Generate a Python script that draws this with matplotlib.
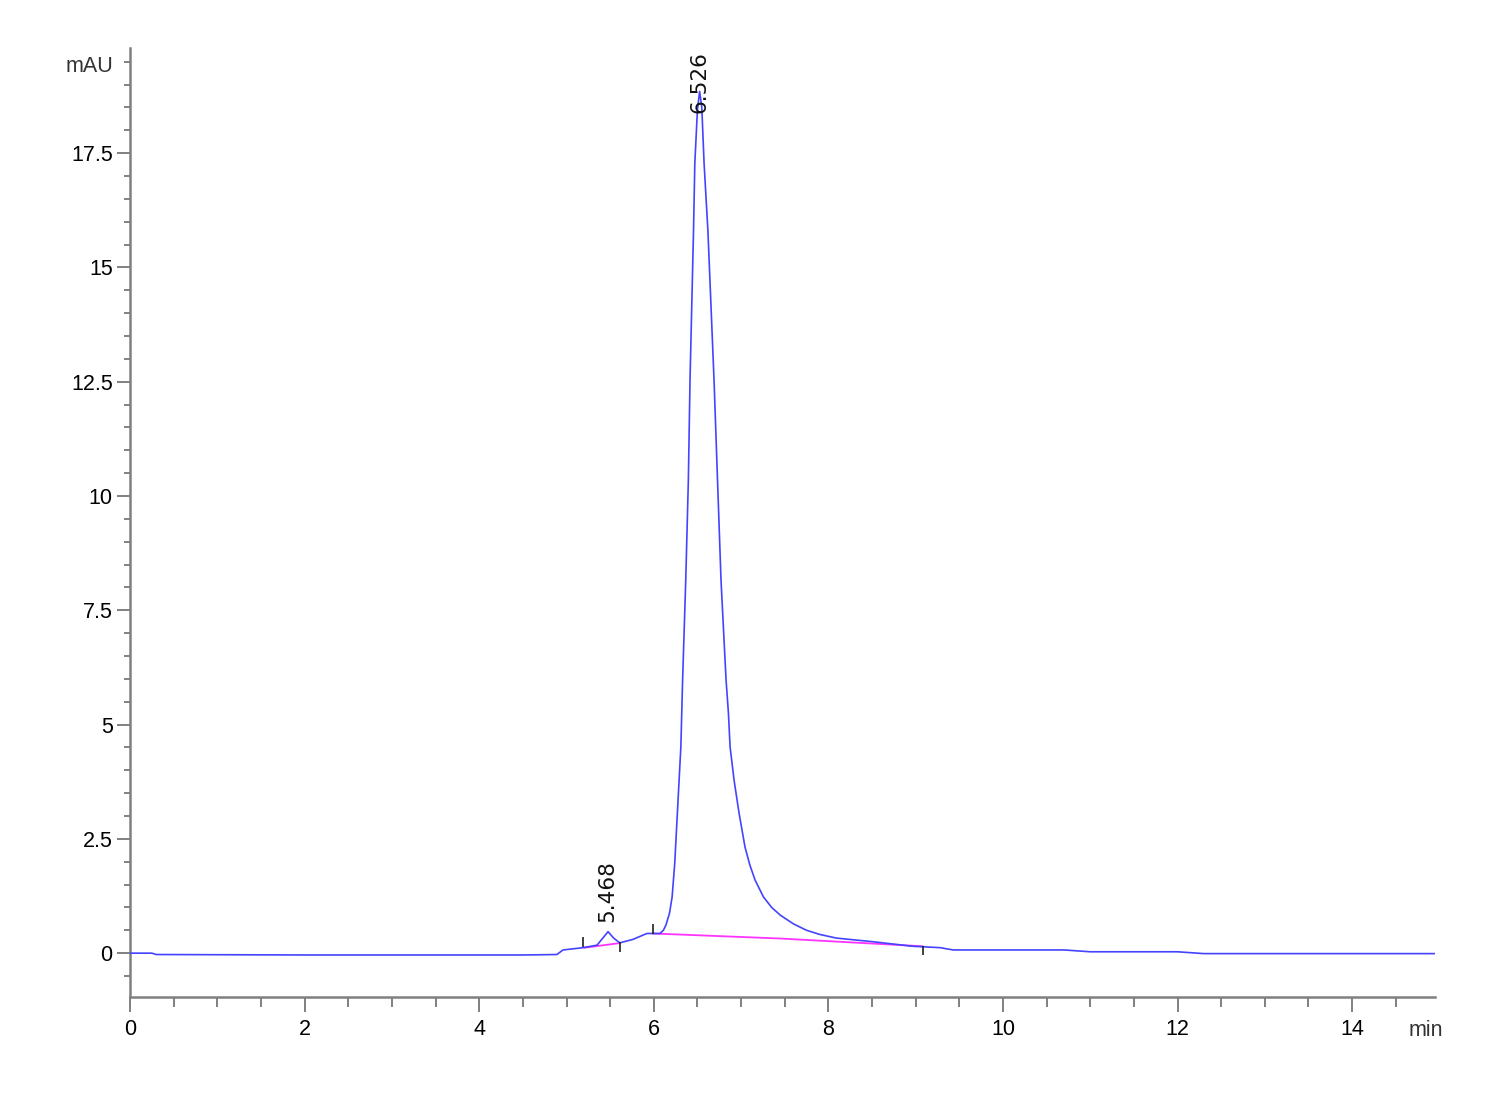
import numpy as np
import matplotlib
matplotlib.use("Agg")
import matplotlib.pyplot as plt
import matplotlib.transforms as mtransforms

# signal (min, mAU)
tempo = [0.0, 0.25, 0.3, 2.0, 3.5, 4.5, 4.89, 4.96, 5.19, 5.35, 5.476, 5.54, 5.61,
         5.76, 5.92, 6.07, 6.11, 6.14, 6.18, 6.21, 6.24, 6.27, 6.31, 6.33, 6.366,
         6.396, 6.415, 6.455, 6.47, 6.50, 6.525, 6.55, 6.576, 6.62, 6.69, 6.73,
         6.77, 6.828, 6.855, 6.874, 6.92, 6.977, 7.045, 7.1, 7.16, 7.256, 7.35,
         7.45, 7.6, 7.75, 7.9, 8.09, 8.51, 8.97, 9.28, 9.43, 10.7, 11.0, 12.0,
         12.3, 14.95]
sinal = [0.0, 0.0, -0.03, -0.04, -0.04, -0.04, -0.03, 0.07, 0.12, 0.175, 0.47, 0.33, 0.225,
         0.30, 0.43, 0.43, 0.50, 0.62, 0.875, 1.23, 1.97, 3.06, 4.51, 5.97, 8.16,
         10.35, 12.54, 15.8, 17.28, 18.45, 18.85, 18.5, 17.28, 15.8, 12.54, 10.35,
         8.16, 5.97, 5.25, 4.51, 3.78, 3.06, 2.32, 1.93, 1.6, 1.23, 1.0,
         0.83, 0.64, 0.5, 0.41, 0.33, 0.25, 0.15, 0.12, 0.07, 0.07, 0.03, 0.03,
         -0.01, -0.01]

# integration baselines
base1_t = [5.21, 5.61]
base1_v = [0.12, 0.22]
base2_t = [5.99, 7.45, 9.08]
base2_v = [0.43, 0.32, 0.15]

# integration event marks
evento_t = [5.19, 5.61, 5.99, 9.08]
evento_lo = [0.13, 0.02, 0.42, -0.04]
evento_hi = [0.35, 0.24, 0.63, 0.15]

# peak labels
picos_t = [5.468, 6.526]
picos_v = [0.68, 18.38]
picos_txt = ["5.468", "6.526"]

fonte_eixo = ["Liberation Sans Narrow", "Liberation Sans", "DejaVu Sans"]

fig = plt.figure(figsize=(15, 11), dpi=100)
ax = fig.add_axes([0.0867, 0.0936, 0.87, 0.8628])

ax.plot(tempo, sinal, color="#4444ff", lw=1.2, zorder=3)
ax.plot(base1_t, base1_v, color="#ff33ff", lw=1.3, zorder=2)
ax.plot(base2_t, base2_v, color="#ff33ff", lw=1.3, zorder=2)
ax.vlines(evento_t, evento_lo, evento_hi, color="#222222", lw=1.2, zorder=4)

for t, v, s in zip(picos_t, picos_v, picos_txt):
    ax.text(t, v, s, rotation=90, ha="center", va="bottom", fontsize=15.5,
            family="DejaVu Sans", color="#111111", zorder=5)

ax.set_xlim(0, 14.95)
ax.set_ylim(-0.96, 19.8)

ax.set_xticks(np.arange(0, 15, 2))
ax.set_xticks(np.arange(0, 15, 0.5), minor=True)
ax.set_yticks(np.arange(0, 18, 2.5))
ax.set_yticklabels(["0", "2.5", "5", "7.5", "10", "12.5", "15", "17.5"])
ax.set_yticks(np.arange(-0.5, 19.6, 0.5), minor=True)

for s in ["top", "right"]:
    ax.spines[s].set_visible(False)
for s in ["left", "bottom"]:
    ax.spines[s].set_color("#808080")
    ax.spines[s].set_linewidth(1.8)

ax.tick_params(axis="x", which="major", length=11, width=1.4, color="#808080", pad=5)
ax.tick_params(axis="x", which="minor", length=7, width=1.4, color="#808080")
ax.tick_params(axis="y", which="major", length=9.5, width=1.4, color="#808080", pad=3)
ax.tick_params(axis="y", which="minor", length=4.5, width=1.4, color="#808080")

for lab in ax.get_xticklabels() + ax.get_yticklabels():
    lab.set_fontfamily(fonte_eixo)
    lab.set_fontsize(15.5)

# unit labels
trans_y = mtransforms.blended_transform_factory(ax.transAxes, ax.transData)
ax.text(-0.013, 19.4, "mAU", transform=trans_y, ha="right", va="center",
        fontsize=15.5, family=fonte_eixo, color="#333333")
trans_x = mtransforms.blended_transform_factory(ax.transData, ax.transAxes)
ax.text(14.84, -0.0242, "min", transform=trans_x, ha="center", va="top",
        fontsize=15.5, family=fonte_eixo, color="#333333")

fig.savefig("out.png", dpi=100, facecolor="white")
